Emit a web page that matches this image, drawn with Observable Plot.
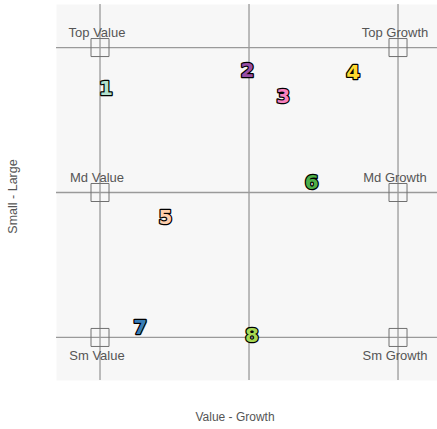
<!DOCTYPE html>
<html>
<head>
<meta charset="utf-8">
<script src="https://cdn.jsdelivr.net/npm/d3@7"></script>
<script src="https://cdn.jsdelivr.net/npm/@observablehq/plot@0.6"></script>
<style>
  html, body { margin: 0; padding: 0; background: white; }
</style>
</head>
<body>
<div id="chart"></div>
<script>
// Style-box positions of the eight holdings (0 = Value/Small, 1 = Blend/Mid, 2 = Growth/Large)
const holdingLabels = ["1", "2", "3", "4", "5", "6", "7", "8"];
const holdingStyle = [0.04, 0.99, 1.23, 1.70, 0.44, 1.42, 0.27, 1.02];
const holdingSize  = [1.72, 1.84, 1.66, 1.83, 0.83, 1.07, 0.07, 0.01];
const holdingColors = ["#b3e2cd", "#984ea3", "#f781bf", "#ffd92f", "#fdcdac", "#4daf4a", "#377eb8", "#a6d854"];

// Reference boxes at the style-box nodes
const boxNames = ["Top Value", "Top Growth", "Md Value", "Md Growth", "Sm Value", "Sm Growth"];
const boxStyle = [0, 2, 0, 2, 0, 2];
const boxSize  = [2, 2, 1, 1, 0, 0];

const gridTicks = [0, 1, 2];
const xTitle = "Value - Growth";
const yTitle = "Small - Large";

const holdings = holdingLabels.map((t, i) => ({t, x: holdingStyle[i], y: holdingSize[i], c: holdingColors[i]}));
const boxes = boxNames.map((n, i) => ({n, x: boxStyle[i], y: boxSize[i]}));

const chart = Plot.plot({
  width: 437,
  height: 429,
  marginLeft: 56,
  marginRight: 0,
  marginTop: 4,
  marginBottom: 49,
  style: {fontFamily: "Liberation Sans, Arial, sans-serif", background: "white"},
  x: {domain: [-0.292, 2.265], axis: null},
  y: {domain: [-0.297, 2.297], axis: null},
  marks: [
    Plot.frame({fill: "#f7f7f7", stroke: "none"}),
    Plot.ruleX(gridTicks, {stroke: "#9a9a9a", strokeWidth: 1.3}),
    Plot.ruleY(gridTicks, {stroke: "#9a9a9a", strokeWidth: 1.3}),
    Plot.dot(boxes, {x: "x", y: "y", symbol: "square", r: 10.16, stroke: "#707070", strokeWidth: 1, fill: "none"}),
    Plot.text(boxes.filter(d => d.y > 0), {x: "x", y: "y", text: "n", lineAnchor: "bottom", dy: -11, dx: -3, fontSize: 13, fill: "#555"}),
    Plot.text(boxes.filter(d => d.y === 0), {x: "x", y: "y", text: "n", lineAnchor: "top", dy: 13, dx: -3, fontSize: 13, fill: "#555"}),
    Plot.text(holdings, {
      x: "x", y: "y", text: "t", fill: "c",
      stroke: "black", strokeWidth: 2.5, paintOrder: "stroke",
      fontFamily: "DejaVu Sans", fontWeight: "bold", fontSize: 20,
      textAnchor: "middle", lineAnchor: "middle"
    }),
    Plot.text([xTitle], {frameAnchor: "bottom", textAnchor: "middle", lineAnchor: "middle", dy: 37, dx: -12, fontSize: 12, fill: "#555"}),
    Plot.text([yTitle], {frameAnchor: "left", rotate: -90, textAnchor: "middle", lineAnchor: "middle", dx: -44, dy: 4, fontSize: 12.5, fill: "#555"})
  ]
});
document.getElementById("chart").appendChild(chart);
</script>
</body>
</html>
